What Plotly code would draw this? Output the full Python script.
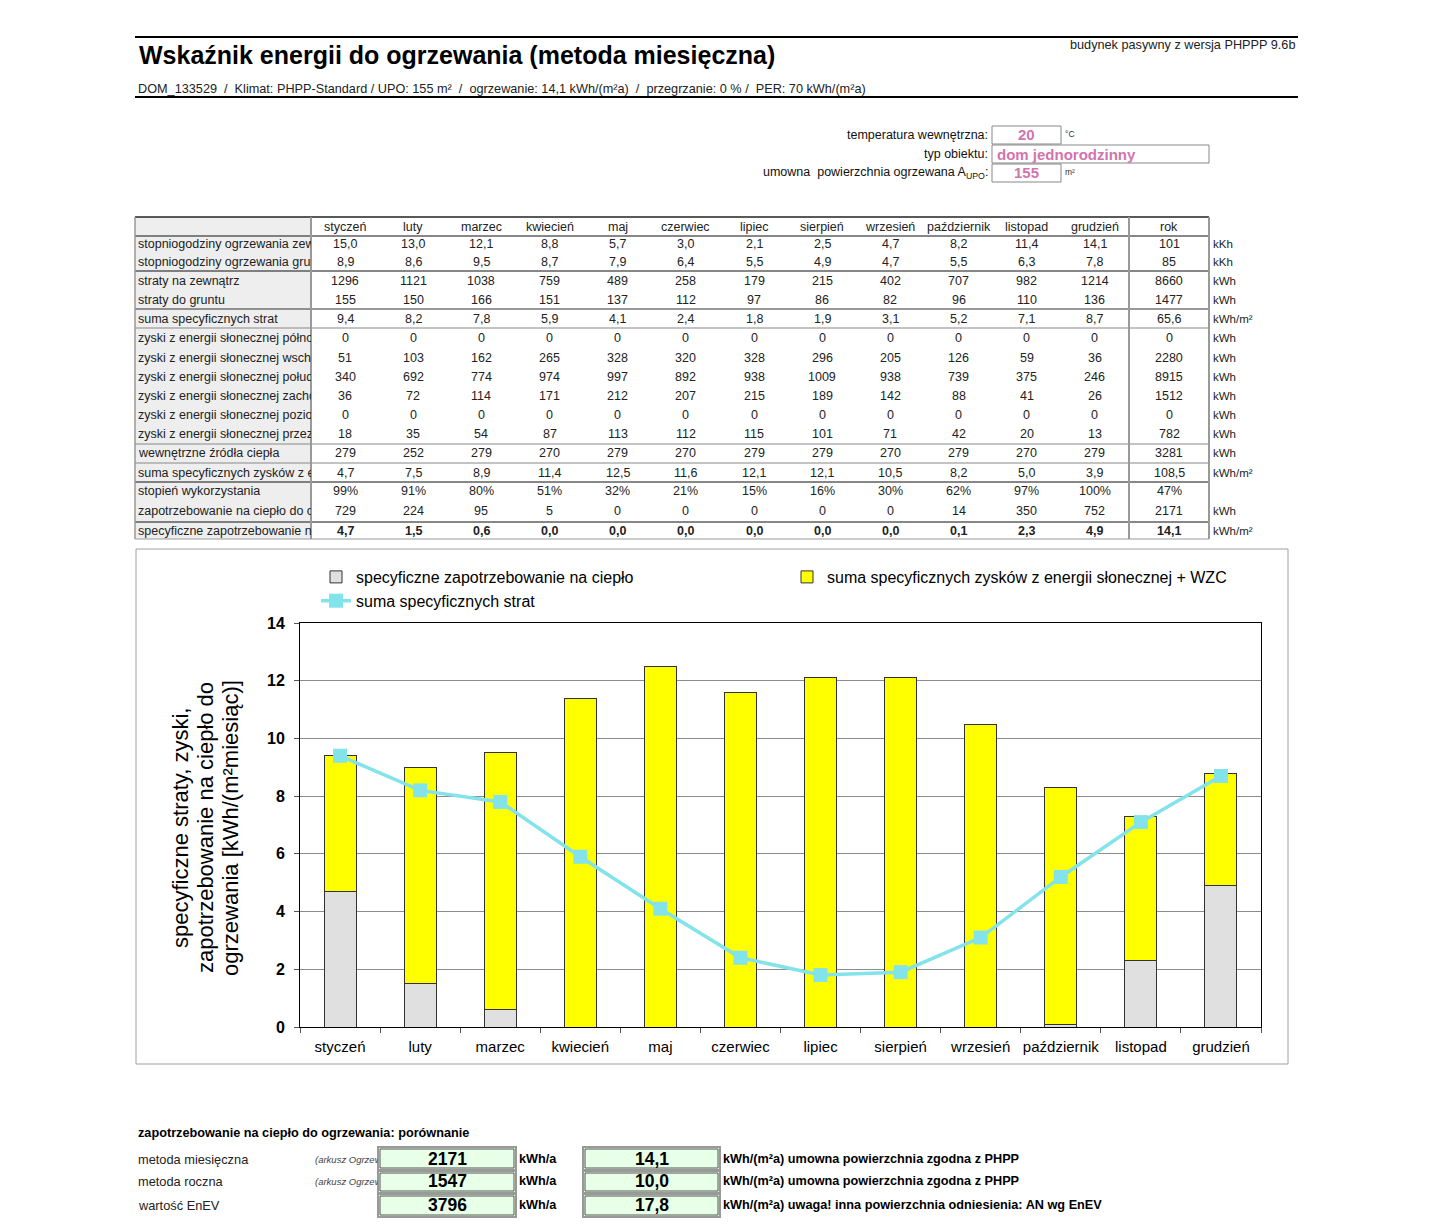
import plotly.graph_objects as go

# ---------------- data ----------------
months = ["styczeń", "luty", "marzec", "kwiecień", "maj", "czerwiec", "lipiec",
          "sierpień", "wrzesień", "październik", "listopad", "grudzień"]

hdd_ext = [15.0, 13.0, 12.1, 8.8, 5.7, 3.0, 2.1, 2.5, 4.7, 8.2, 11.4, 14.1]
hdd_ground = [8.9, 8.6, 9.5, 8.7, 7.9, 6.4, 5.5, 4.9, 4.7, 5.5, 6.3, 7.8]
loss_ext = [1296, 1121, 1038, 759, 489, 258, 179, 215, 402, 707, 982, 1214]
loss_ground = [155, 150, 166, 151, 137, 112, 97, 86, 82, 96, 110, 136]
spec_losses = [9.4, 8.2, 7.8, 5.9, 4.1, 2.4, 1.8, 1.9, 3.1, 5.2, 7.1, 8.7]
solar_n = [0] * 12
solar_e = [51, 103, 162, 265, 328, 320, 328, 296, 205, 126, 59, 36]
solar_s = [340, 692, 774, 974, 997, 892, 938, 1009, 938, 739, 375, 246]
solar_w = [36, 72, 114, 171, 212, 207, 215, 189, 142, 88, 41, 26]
solar_h = [0] * 12
solar_t = [18, 35, 54, 87, 113, 112, 115, 101, 71, 42, 20, 13]
internal = [279, 252, 279, 270, 279, 270, 279, 279, 270, 279, 270, 279]
spec_gains = [4.7, 7.5, 8.9, 11.4, 12.5, 11.6, 12.1, 12.1, 10.5, 8.2, 5.0, 3.9]
utilisation = [99, 91, 80, 51, 32, 21, 15, 16, 30, 62, 97, 100]
heat_demand = [729, 224, 95, 5, 0, 0, 0, 0, 0, 14, 350, 752]
spec_demand = [4.7, 1.5, 0.6, 0.0, 0.0, 0.0, 0.0, 0.0, 0.0, 0.1, 2.3, 4.9]

row_labels = [
    "stopniogodziny ogrzewania zewn.",
    "stopniogodziny ogrzewania grunt",
    "straty na zewnątrz",
    "straty do gruntu",
    "suma specyficznych strat",
    "zyski z energii słonecznej północ",
    "zyski z energii słonecznej wschód",
    "zyski z energii słonecznej południe",
    "zyski z energii słonecznej zachód",
    "zyski z energii słonecznej poziomo",
    "zyski z energii słonecznej przezr.",
    "wewnętrzne źródła ciepła",
    "suma specyficznych zysków z en.",
    "stopień wykorzystania",
    "zapotrzebowanie na ciepło do og.",
    "specyficzne zapotrzebowanie na c.",
]
row_values = [hdd_ext, hdd_ground, loss_ext, loss_ground, spec_losses, solar_n, solar_e,
              solar_s, solar_w, solar_h, solar_t, internal, spec_gains, utilisation,
              heat_demand, spec_demand]
row_year = [101, 85, 8660, 1477, 65.6, 0, 2280, 8915, 1512, 0, 782, 3281, 108.5, 47, 2171, 14.1]
row_kind = ["d1", "d1", "i", "i", "d1", "i", "i", "i", "i", "i", "i", "i", "d1", "pct", "i", "d1"]
row_year_kind = ["i", "i", "i", "i", "d1", "i", "i", "i", "i", "i", "i", "i", "d1", "pct", "i", "d1"]
row_units = ["kKh", "kKh", "kWh", "kWh", "kWh/m²", "kWh", "kWh", "kWh", "kWh", "kWh", "kWh",
             "kWh", "kWh/m²", "", "kWh", "kWh/m²"]
year_col = "rok"

title_text = "Wskaźnik energii do ogrzewania (metoda miesięczna)"
version_text = "budynek pasywny z wersja PHPPP 9.6b"
subtitle_text = ("DOM_133529  /  Klimat: PHPP-Standard / UPO: 155 m²  /  ogrzewanie: 14,1 kWh/(m²a)"
                 "  /  przegrzanie: 0 % /  PER: 70 kWh/(m²a)")

input_labels = ["temperatura wewnętrzna:", "typ obiektu:",
                "umowna  powierzchnia ogrzewana A<sub>UPO</sub>:"]
input_values = ["20", "dom jednorodzinny", "155"]
input_units = ["°C", "", "m²"]

cmp_title = "zapotrzebowanie na ciepło do ogrzewania: porównanie"
cmp_labels = ["metoda miesięczna", "metoda roczna", "wartość EnEV"]
cmp_source = ["(arkusz Ogrzewanie)", "(arkusz Ogrzewanie R)", ""]
cmp_kwh = ["2171", "1547", "3796"]
cmp_spec = ["14,1", "10,0", "17,8"]
cmp_notes = ["kWh/(m²a) umowna powierzchnia zgodna z PHPP",
             "kWh/(m²a) umowna powierzchnia zgodna z PHPP",
             "kWh/(m²a) uwaga! inna powierzchnia odniesienia: AN wg EnEV"]

y_title_lines = ["specyficzne straty, zyski,", "zapotrzebowanie na ciepło do",
                 "ogrzewania [kWh/(m²miesiąc)]"]

# ---------------- layout helpers ----------------
OFF = 8                      # page body margin of the html page
W, H = 1442 - 2 * OFF, 1230 - 2 * OFF
PL, PR, PT, PB = 300, 1261, 623, 1027  # plot area in page pixels
FONT = "Liberation Sans, Arial, sans-serif"


def X(p):
    return (p - PL) / (PR - PL)


def Y(p):
    return (PB - p) / (PB - PT)


def fmt(v, kind):
    if kind == "d1":
        return f"{v:.1f}".replace(".", ",")
    if kind == "pct":
        return f"{v}%"
    return str(int(round(v)))


annotations = []
shapes = []


def ann(x, y, text, size=12, xanchor="left", bold=False, color="#000000", italic=False,
        width=None, align=None, angle=0):
    t = f"<b>{text}</b>" if bold else text
    if italic:
        t = f"<i>{t}</i>"
    d = dict(x=X(x), y=Y(y), xref="paper", yref="paper", text=t, showarrow=False,
             xanchor=xanchor, yanchor="middle", font=dict(family=FONT, size=size, color=color),
             textangle=angle, borderpad=0)
    if width is not None:
        d["width"] = width
        d["align"] = align or "left"
    annotations.append(d)


def line(x0, y0, x1, y1, color="#000000", width=1):
    shapes.append(dict(type="line", xref="paper", yref="paper", x0=X(x0), y0=Y(y0),
                       x1=X(x1), y1=Y(y1), line=dict(color=color, width=width)))


def rect(x0, y0, x1, y1, fill=None, color="#000000", width=1):
    shapes.append(dict(type="rect", xref="paper", yref="paper", x0=X(x0), y0=Y(y0),
                       x1=X(x1), y1=Y(y1), fillcolor=fill or "rgba(0,0,0,0)",
                       line=dict(color=color, width=width), layer="below"))


# ---------------- header block ----------------
line(135, 37, 1298, 37, "#000000", 2)
ann(138, 55, f"<b>{title_text}</b>", size=25)
ann(1296, 45, version_text, size=12.7, xanchor="right", color="#222222")
ann(137, 89, subtitle_text, size=12.7, color="#222222")
line(135, 97, 1298, 97, "#000000", 2)

in_y = [135, 154, 173]
in_boxes = [(992, 1061, 126, 144), (992, 1209, 145, 163), (992, 1061, 164, 182)]
for lab, val, unit, yy, (bx0, bx1, by0, by1) in zip(input_labels, input_values, input_units, in_y, in_boxes):
    ann(989, yy, lab, size=12.5, xanchor="right", color="#111111")
    rect(bx0, by0, bx1, by1, fill="#ffffff", color="#888888", width=1)
    if bx1 - bx0 < 100:
        ann((bx0 + bx1) / 2, yy, val, size=15, xanchor="center", bold=True, color="#d274ac")
    else:
        ann(bx0 + 4, yy, val, size=15, bold=True, color="#d274ac")
    if unit:
        ann(1064, yy - 1, unit, size=8.5, color="#333333")

# ---------------- table ----------------
T_L, T_LAB, T_ROK, T_R = 135, 311, 1129, 1209
T_TOP, T_BOT = 217, 539
col_w = (T_ROK - T_LAB) / 12
row_y = [244, 262, 281, 300, 319, 338, 358, 377, 396, 415, 434, 453, 473, 491, 511, 531]

rect(T_L, T_TOP, T_LAB, T_BOT, fill="#eeeeee", color="rgba(0,0,0,0)", width=0)
line(T_L, T_TOP, T_R, T_TOP, "#222222", 1.5)
for yy, c in [(236, "#111111"), (271, "#111111"), (309, "#333333"), (328, "#888888"),
              (444, "#888888"), (463, "#888888"), (482, "#111111"), (522, "#111111"),
              (539, "#999999")]:
    line(T_L, yy, T_R, yy, c, 1.2)
line(T_L, T_TOP, T_L, T_BOT, "#999999", 1.5)
line(T_LAB, T_TOP, T_LAB, T_BOT, "#999999", 2)
line(T_ROK, T_TOP, T_ROK, T_BOT, "#999999", 2)
line(T_R, T_TOP, T_R, T_BOT, "#999999", 2)

for j, m in enumerate(months):
    ann(T_LAB + col_w * (j + 0.5), 227, m, size=12.5, xanchor="center", color="#222222")
ann((T_ROK + T_R) / 2, 227, year_col, size=12.5, xanchor="center", color="#222222")

for i, (lab, vals, yv, kind, ykind, unit) in enumerate(
        zip(row_labels, row_values, row_year, row_kind, row_year_kind, row_units)):
    yy = row_y[i]
    bold = (i == len(row_labels) - 1)
    ann(137, yy, lab, size=12.5, width=173, align="left", color="#222222")
    for j, v in enumerate(vals):
        ann(T_LAB + col_w * (j + 0.5), yy, fmt(v, kind), size=12.5, xanchor="center",
            bold=bold, color="#222222")
    ann((T_ROK + T_R) / 2, yy, fmt(yv, ykind), size=12.5, xanchor="center", bold=bold,
        color="#222222")
    if unit:
        ann(1212, yy, unit, size=11.5, color="#222222")

# ---------------- chart frame & axis title ----------------
rect(136, 549, 1288, 1064, fill="#ffffff", color="#a0a0a0", width=1)
for k, txt in enumerate(y_title_lines):
    ann(180 + 25 * k, 828, txt, size=22, xanchor="center", angle=-90, color="#000000")

# ---------------- comparison block ----------------
ann(137, 1133, cmp_title, size=12.7, bold=True)
cmp_y = [1159, 1181, 1205]
cmp_box_y = [(1147, 1170), (1171, 1193), (1194, 1217)]
for lab, src, kv, sv, note, yy, (by0, by1) in zip(cmp_labels, cmp_source, cmp_kwh, cmp_spec,
                                                   cmp_notes, cmp_y, cmp_box_y):
    ann(137, yy, lab, size=12.8, color="#222222")
    if src:
        ann(314, yy, src, size=9.5, italic=True, width=63, align="left", color="#444444")
    for bx0, bx1, val in [(378, 516, kv), (583, 720, sv)]:
        rect(bx0, by0, bx1, by1, fill="#e8ffe8", color="#999999", width=2)
        rect(bx0 + 2, by0 + 2, bx1 - 2, by1 - 2, fill=None, color="#555555", width=1)
        ann((bx0 + bx1) / 2, yy, val, size=17.5, xanchor="center", bold=True)
    ann(518, yy, "kWh/a", size=12.7, bold=True)
    ann(722, yy, note, size=12.7, bold=True)

# ---------------- chart ----------------
fig = go.Figure()
fig.add_bar(x=months, y=spec_demand, name="specyficzne zapotrzebowanie na ciepło",
            marker=dict(color="#e0e0e0", line=dict(color="#333333", width=1)), width=0.4,
            legend="legend")
fig.add_bar(x=months, y=spec_gains, name="suma specyficznych zysków z energii słonecznej + WZC",
            marker=dict(color="#ffff00", line=dict(color="#333333", width=1)), width=0.4,
            legend="legend2")
fig.add_scatter(x=months, y=spec_losses, mode="lines+markers", name="suma specyficznych strat",
                line=dict(color="#82e3ea", width=3.5),
                marker=dict(symbol="square", size=14, color="#82e3ea"), legend="legend")

fig.update_layout(
    width=W, height=H,
    margin=dict(l=PL - OFF, r=W - (PR - OFF), t=PT - OFF, b=H - (PB - OFF), autoexpand=False),
    paper_bgcolor="#ffffff", plot_bgcolor="#ffffff",
    barmode="stack",
    font=dict(family=FONT, color="#000000"),
    showlegend=True,
    legend=dict(x=X(316), y=Y(560), xanchor="left", yanchor="top", traceorder="normal",
                font=dict(family=FONT, size=16), bgcolor="rgba(0,0,0,0)"),
    legend2=dict(x=X(787), y=Y(560), xanchor="left", yanchor="top",
                 font=dict(family=FONT, size=16), bgcolor="rgba(0,0,0,0)"),
    xaxis=dict(range=[-0.5, 11.5], showline=True, linecolor="#000000", linewidth=1, mirror=True,
               ticks="outside", tickson="boundaries", ticklen=5, tickcolor="#555555",
               tickangle=0, tickfont=dict(family=FONT, size=15), showgrid=False,
               ticklabelstandoff=6),
    yaxis=dict(range=[0, 14], dtick=2, showline=True, linecolor="#000000", linewidth=1,
               mirror=True, ticks="outside", ticklen=5, tickcolor="#555555",
               tickfont=dict(family=FONT, size=16, weight="bold"),
               showgrid=True, gridcolor="#8c8c8c", gridwidth=1, zeroline=False,
               ticklabelstandoff=6),
    annotations=annotations,
    shapes=shapes,
)

fig.write_html("out.html")
